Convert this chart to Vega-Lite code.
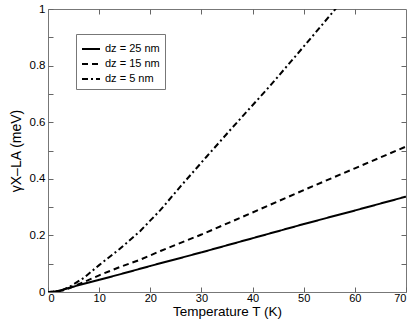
{
  "$schema": "https://vega.github.io/schema/vega-lite/v6.json",
  "autosize": "none",
  "width": 358,
  "height": 283,
  "padding": {"left": 48, "top": 9, "right": 9, "bottom": 30},
  "background": "white",
  "config": {
    "font": "Liberation Sans",
    "view": {"stroke": "#777", "strokeWidth": 1},
    "axis": {"grid": false, "domain": false, "tickColor": "#666", "tickSize": -5, "labelColor": "black", "labelFontSize": 11.5, "titleFontSize": 14, "titleFontWeight": "normal", "titleColor": "black"}
  },
  "data": {"values": [
    {"series": "dz = 25 nm", "T": 0, "g": 0},
    {"series": "dz = 25 nm", "T": 1, "g": 0.001},
    {"series": "dz = 25 nm", "T": 2, "g": 0.004},
    {"series": "dz = 25 nm", "T": 3, "g": 0.009},
    {"series": "dz = 25 nm", "T": 4, "g": 0.014},
    {"series": "dz = 25 nm", "T": 5, "g": 0.019},
    {"series": "dz = 25 nm", "T": 7, "g": 0.029},
    {"series": "dz = 25 nm", "T": 10, "g": 0.043},
    {"series": "dz = 25 nm", "T": 15, "g": 0.067},
    {"series": "dz = 25 nm", "T": 20, "g": 0.092},
    {"series": "dz = 25 nm", "T": 30, "g": 0.14},
    {"series": "dz = 25 nm", "T": 40, "g": 0.19},
    {"series": "dz = 25 nm", "T": 50, "g": 0.24},
    {"series": "dz = 25 nm", "T": 60, "g": 0.288},
    {"series": "dz = 25 nm", "T": 70, "g": 0.337},
    {"series": "dz = 15 nm", "T": 0, "g": 0},
    {"series": "dz = 15 nm", "T": 2, "g": 0.002},
    {"series": "dz = 15 nm", "T": 3, "g": 0.006},
    {"series": "dz = 15 nm", "T": 4, "g": 0.012},
    {"series": "dz = 15 nm", "T": 5, "g": 0.02},
    {"series": "dz = 15 nm", "T": 7, "g": 0.035},
    {"series": "dz = 15 nm", "T": 10, "g": 0.059},
    {"series": "dz = 15 nm", "T": 14, "g": 0.088},
    {"series": "dz = 15 nm", "T": 18, "g": 0.114},
    {"series": "dz = 15 nm", "T": 22, "g": 0.145},
    {"series": "dz = 15 nm", "T": 30, "g": 0.203},
    {"series": "dz = 15 nm", "T": 40, "g": 0.281},
    {"series": "dz = 15 nm", "T": 50, "g": 0.36},
    {"series": "dz = 15 nm", "T": 60, "g": 0.437},
    {"series": "dz = 15 nm", "T": 70, "g": 0.514},
    {"series": "dz = 5 nm", "T": 0, "g": 0},
    {"series": "dz = 5 nm", "T": 1, "g": 0.0005},
    {"series": "dz = 5 nm", "T": 2, "g": 0.002},
    {"series": "dz = 5 nm", "T": 3, "g": 0.008},
    {"series": "dz = 5 nm", "T": 4, "g": 0.016},
    {"series": "dz = 5 nm", "T": 5, "g": 0.027},
    {"series": "dz = 5 nm", "T": 7, "g": 0.05},
    {"series": "dz = 5 nm", "T": 10, "g": 0.095},
    {"series": "dz = 5 nm", "T": 14, "g": 0.152},
    {"series": "dz = 5 nm", "T": 18, "g": 0.215},
    {"series": "dz = 5 nm", "T": 22, "g": 0.29},
    {"series": "dz = 5 nm", "T": 26, "g": 0.375},
    {"series": "dz = 5 nm", "T": 31, "g": 0.478},
    {"series": "dz = 5 nm", "T": 36, "g": 0.58},
    {"series": "dz = 5 nm", "T": 40, "g": 0.66},
    {"series": "dz = 5 nm", "T": 43.4, "g": 0.728},
    {"series": "dz = 5 nm", "T": 48, "g": 0.825},
    {"series": "dz = 5 nm", "T": 52, "g": 0.91},
    {"series": "dz = 5 nm", "T": 56.2, "g": 1.0},
    {"series": "dz = 5 nm", "T": 57, "g": 1.018}
  ]},
  "layer": [
    {
      "mark": {"type": "line", "color": "black", "strokeWidth": 2, "clip": true},
      "encoding": {
        "x": {"field": "T", "type": "quantitative", "scale": {"domain": [0, 70], "nice": false},
              "axis": {"values": [0, 10, 20, 30, 40, 50, 60, 70], "title": "Temperature T  (K)", "labelPadding": 5, "labelFontSize": 11, "titleFontSize": 13.5, "titlePadding": 1}},
        "y": {"field": "g", "type": "quantitative", "scale": {"domain": [0, 1], "nice": false},
              "axis": {"values": [0, 0.1, 0.2, 0.3, 0.4, 0.5, 0.6, 0.7, 0.8, 0.9, 1], "format": "~g",
                       "labelExpr": "round(datum.value*10) % 2 == 0 ? datum.label : ''",
                       "title": "γX–LA  (meV)", "labelPadding": 8, "titlePadding": 6}},
        "strokeDash": {"field": "series", "type": "nominal",
          "scale": {"domain": ["dz = 25 nm", "dz = 15 nm", "dz = 5 nm"], "range": [[1, 0], [6, 4], [6, 3, 2, 3]]},
          "legend": {"title": null, "orient": "none", "legendX": 28, "legendY": 25, "symbolType": "stroke", "symbolSize": 324, "symbolStrokeWidth": 2, "symbolStrokeColor": "black", "labelFontSize": 11, "labelColor": "black", "strokeColor": "#777", "padding": 5, "rowPadding": -4, "fillColor": "white"}}
      }
    },
    {
      "mark": {"type": "line", "opacity": 0},
      "encoding": {
        "x": {"field": "T", "type": "quantitative", "axis": {"orient": "top", "values": [10, 20, 30, 40, 50, 60], "labels": false, "title": null}},
        "y": {"field": "g", "type": "quantitative", "axis": {"orient": "right", "values": [0.1, 0.2, 0.3, 0.4, 0.5, 0.6, 0.7, 0.8, 0.9], "labels": false, "title": null}},
        "detail": {"field": "series"}
      }
    }
  ],
  "resolve": {"axis": {"x": "independent", "y": "independent"}}
}
